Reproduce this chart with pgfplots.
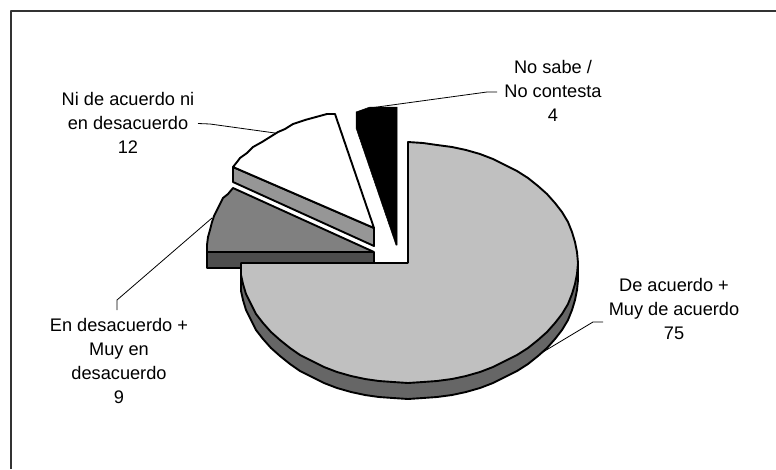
\documentclass[border=0pt]{standalone}
\usepackage{fontspec}
\setmainfont{Liberation Sans}
\usepackage{pgfplots}
\pgfplotsset{compat=1.18}
\definecolor{bigtop}{HTML}{C0C0C0}
\definecolor{bigrim}{HTML}{666666}
\definecolor{midtop}{HTML}{808080}
\definecolor{midrim}{HTML}{4D4D4D}
\definecolor{whiterim}{HTML}{969696}
\definecolor{framec}{HTML}{333333}
\tikzset{lbl/.style={align=center, anchor=base, inner sep=0pt,
    font=\fontsize{18.2}{24}\selectfont}}
\begin{document}
\begin{tikzpicture}
\begin{axis}[
    x=1pt, y=1pt,
    xmin=0, xmax=776,
    ymin=0, ymax=469,
    y dir=reverse,
    hide axis,
    clip=true,
    every axis plot/.append style={line join=round},
]
% keeps the page at full size, hide axis drops the box
\addplot [draw=none] coordinates {(0,0) (776,469)};

% frame, only top and left sides are there
\addplot [framec, line width=2pt] coordinates {(10.5,469) (10.5,11) (776,11)};

% leader lines
\addplot [black, line width=0.8pt] coordinates {(370,108) (487,92) (497,92)};
\addplot [black, line width=0.8pt] coordinates {(198,123.5) (210,124) (275,133)};
\addplot [black, line width=0.8pt] coordinates {(117,310) (117,300) (212,218)};
\addplot [black, line width=0.8pt] coordinates {(603,322) (593,322) (543,352)};

% white slice (12)
\addplot [black, line width=1.9pt, fill=whiterim] coordinates {
    (233,167) (233,182) (374,246) (374,228) (233,167)};
\addplot [black, line width=1.9pt, fill=white] coordinates {
    (374,228) (335,114) (327,114) (316,117) (305,120) (293,124) (285,129) (278,132)
    (270,137) (262,142) (253,147) (247,153) (240,158) (237,162) (233,167) (374,228)};

% black slice (4)
\addplot [black, line width=0.5pt, fill=black] coordinates {
    (356,112) (370,107) (397,107) (397,245) (396,245) (356,128) (356,112)};

% grey slice (9)
\addplot [black, line width=1.9pt, fill=midrim] coordinates {
    (207,252) (374,252) (374,268) (207,268) (207,252)};
\addplot [black, line width=1.9pt, fill=midtop] coordinates {
    (374,252) (233,188) (228,194) (223,198) (220,204) (217,210) (214,216) (212,222)
    (210,230) (208,237) (207,245) (207,252) (374,252)};

% big slice (75)
\addplot [black, line width=1.9pt, fill=bigrim] coordinates {
    (241,263) (241,291) (243,300) (246,310) (251,320) (256,330) (263,339) (271,348)
    (280,356) (290,364) (300,371) (312,377) (324,383) (337,388) (351,392) (365,395)
    (379,397) (393,398) (408,399) (423,398) (437,397) (452,395) (466,392) (480,388)
    (493,383) (505,377) (517,371) (528,364) (538,356) (547,348) (555,339) (562,330)
    (568,320) (572,310) (575,300) (577,290) (578,280) (578,263) (241,263)};
\addplot [black, line width=1.9pt, fill=bigtop] coordinates {
    (408,263) (408,142) (423,143) (437,145) (452,147) (466,150) (480,154) (493,159)
    (505,165) (517,171) (528,178) (538,186) (547,194) (555,203) (562,212) (568,222)
    (572,232) (575,242) (577,252) (578,263) (577,274) (575,284) (572,294) (568,304)
    (562,314) (555,323) (547,332) (538,340) (528,348) (517,355) (505,361) (493,367)
    (480,372) (466,376) (452,379) (437,381) (423,382) (408,383) (393,382) (379,381)
    (365,379) (351,376) (337,372) (324,367) (312,361) (300,355) (290,348) (280,340)
    (271,332) (263,323) (256,314) (251,304) (246,294) (243,284) (241,275) (241,263) (408,263)};

% labels
\node [lbl] at (axis cs:553,121) {No sabe /\\No contesta\\4};
\node [lbl] at (axis cs:128,153) {Ni de acuerdo ni\\en desacuerdo\\12};
\node [lbl] at (axis cs:119,403) {En desacuerdo +\\Muy en\\desacuerdo\\9};
\node [lbl] at (axis cs:674,339) {De acuerdo +\\Muy de acuerdo\\75};
\end{axis}
\end{tikzpicture}
\end{document}
